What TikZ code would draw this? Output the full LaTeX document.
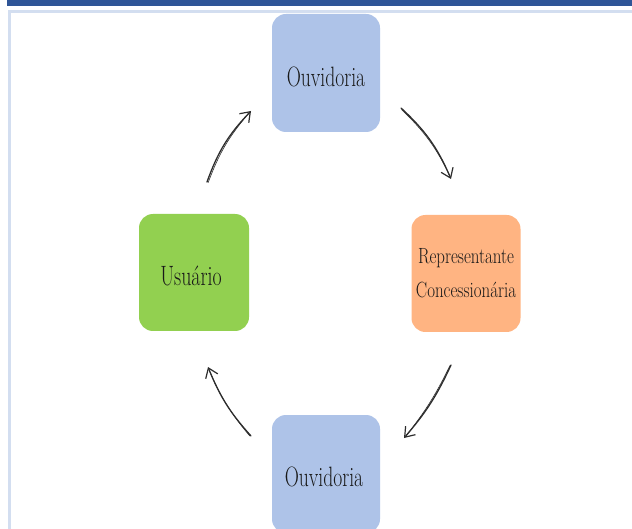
\documentclass[tikz,border=0pt]{standalone}
\usetikzlibrary{arrows.meta}
\definecolor{ouvblue}{RGB}{174,195,232}
\definecolor{usugreen}{RGB}{146,208,80}
\definecolor{reporange}{RGB}{255,180,130}
\definecolor{bandblue}{RGB}{47,85,151}
\definecolor{framelight}{RGB}{211,222,240}
\definecolor{inkgray}{RGB}{45,45,45}
\newcommand{\boxtxt}[2]{\scalebox{#1}[1]{#2}}
\tikzset{
  cardbox/.style={rounded corners=14pt, inner sep=0pt},
  cardtext/.style={text=black!90, font=\fontsize{28}{30}\selectfont},
  sketcharrow/.style={draw=inkgray, line width=1.3pt, line cap=round,
    -{Straight Barb[length=9pt,width=13pt,line width=1.2pt]}},
  sketchthin/.style={draw=inkgray, line width=0.6pt, line cap=round}
}
\begin{document}
\begin{tikzpicture}[x=1pt,y=-1pt]
\clip (0,0) rectangle (632,529);
\useasboundingbox (0,0) rectangle (632,529);
\fill[white] (0,0) rectangle (632,529);
% header band and frame
\fill[bandblue] (7,0) rectangle (632,6);
\draw[framelight, line width=2.2pt] (9.5,540) -- (9.5,11.5) -- (640,11.5);
% boxes
\node[cardbox, fill=ouvblue, minimum width=108pt, minimum height=118pt] (ouvtop) at (326,73) {};
\node[cardtext] (ouvtoptxt) at (326,76.5) {\boxtxt{0.70}{Ouvidoria}};
\node[cardbox, fill=usugreen, minimum width=110pt, minimum height=117pt] (usuario) at (194,272.5) {};
\node[cardtext] (usuariotxt) at (191,275.5) {\boxtxt{0.71}{Usuário}};
\node[cardbox, fill=reporange, minimum width=109pt, minimum height=117pt, align=center, text=black!90,
      font=\fontsize{22}{34}\selectfont] (repr) at (466,273.5) {\boxtxt{0.77}{Representante}\\\boxtxt{0.77}{Concessionária}};
\node[cardbox, fill=ouvblue, minimum width=108pt, minimum height=118pt] (ouvbot) at (326,474) {};
\node[cardtext] (ouvbottxt) at (324,477) {\boxtxt{0.70}{Ouvidoria}};
% arrow end points
\coordinate (a1s) at (207,182); \coordinate (a1e) at (251,111);
\coordinate (a2s) at (401,108); \coordinate (a2e) at (451,179);
\coordinate (a3s) at (451,365); \coordinate (a3e) at (404,438);
\coordinate (a4s) at (251,436); \coordinate (a4e) at (208,367);
% arrows
\draw[sketcharrow] (a1s) to[bend left=12] (a1e);
\draw[sketchthin] ([shift={(1.2,0.5)}]a1s) to[bend left=10] ([shift={(-2,2)}]a1e);
\draw[sketcharrow] (a2s) to[bend left=12] (a2e);
\draw[sketchthin] ([shift={(0.5,1.5)}]a2s) to[bend left=10] ([shift={(-1,-3)}]a2e);
\draw[sketcharrow] (a3s) to[bend left=8] (a3e);
\draw[sketchthin] ([shift={(-1,0.5)}]a3s) to[bend left=6] ([shift={(2,-2)}]a3e);
\draw[sketcharrow] (a4s) to[bend left=10] (a4e);
\draw[sketchthin] ([shift={(-1.2,0)}]a4s) to[bend left=8] ([shift={(1,3)}]a4e);
\end{tikzpicture}
\end{document}
